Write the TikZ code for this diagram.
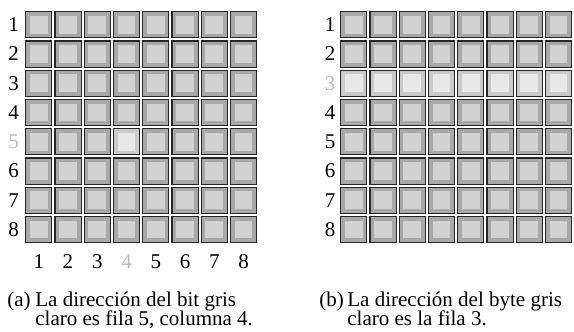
\documentclass[tikz,border=0pt]{standalone}
\usepackage{fontspec}
\setmainfont{Liberation Serif}
\usetikzlibrary{positioning}

\definecolor{borde}{HTML}{262626}
\definecolor{marco}{HTML}{A8A8A8}
\definecolor{fondo}{HTML}{D2D2D2}
\definecolor{marcoclaro}{HTML}{CACACA}
\definecolor{fondoclaro}{HTML}{E8E8E8}
\definecolor{rotuloclaro}{HTML}{BBBBBB}

\tikzset{
  bit/.style 2 args={draw=borde, line width=0.6pt, fill=#1, minimum size=13.1pt,
    inner sep=0pt, outer sep=0pt,
    path picture={\fill[#2] ([shift={(2.1pt,2.1pt)}]path picture bounding box.south west)
      rectangle ([shift={(-2.1pt,-2.1pt)}]path picture bounding box.north east);}},
  oscuro/.style={bit={marco}{fondo}},
  claro/.style={bit={marcoclaro}{fondoclaro}},
  rotulo/.style={font=\fontsize{10.5pt}{11pt}\selectfont, inner sep=0pt},
  leyenda/.style={font=\fontsize{10.5pt}{12pt}\selectfont, inner sep=0pt, anchor=base west},
  primera/.style={leyenda, text depth=0.5pt},
  segunda/.style={leyenda, text height=6pt}
}

\begin{document}
\begin{tikzpicture}[x=0.5pt, y=-0.5pt]
    \useasboundingbox (0,0) rectangle (574,332);

    % (a) bit en fila 5, columna 4
    \foreach \r in {1,...,8}{
      \foreach \c in {1,...,8}{
        \def\estilo{oscuro}
        \ifnum\r=5 \ifnum\c=4 \def\estilo{claro}\fi\fi
        \node[\estilo] (a-\r-\c) at ({38.75+(\c-1)*29.25},{24.75+(\r-1)*29.25}) {};
      }
    }
    \foreach \r in {1,...,8}{
      \def\tono{black}
      \ifnum\r=5 \def\tono{rotuloclaro}\fi
      \node[rotulo, text=\tono] (a-fila-\r) at (13.5,{24.75+(\r-1)*29.25}) {\r};
    }
    \foreach \c in {1,...,8}{
      \def\tono{black}
      \ifnum\c=4 \def\tono{rotuloclaro}\fi
      \node[rotulo, text=\tono] (a-col-\c) at ({38.75+(\c-1)*29.25},261.5) {\c};
    }

    % (b) byte en fila 3
    \foreach \r in {1,...,8}{
      \foreach \c in {1,...,8}{
        \def\estilo{oscuro}
        \ifnum\r=3 \def\estilo{claro}\fi
        \node[\estilo] (b-\r-\c) at ({353.75+(\c-1)*29.25},{24.75+(\r-1)*29.25}) {};
      }
    }
    \foreach \r in {1,...,8}{
      \def\tono{black}
      \ifnum\r=3 \def\tono{rotuloclaro}\fi
      \node[rotulo, text=\tono] (b-fila-\r) at (330,{24.75+(\r-1)*29.25}) {\r};
    }

    % leyendas
    \node[primera] (a-etq) at (7,306.5) {(a)};
    \node[primera] (a-lin1) at (35,306.5) {La dirección del bit gris};
    \node[segunda] (a-lin2) at (35,325.5) {claro es fila 5, columna 4.};
    \node[primera] (b-etq) at (319,306.5) {(b)};
    \node[primera] (b-lin1) at (347,306.5) {La dirección del byte gris};
    \node[segunda] (b-lin2) at (347,325.5) {claro es la fila 3.};
  \end{tikzpicture}
\end{document}
